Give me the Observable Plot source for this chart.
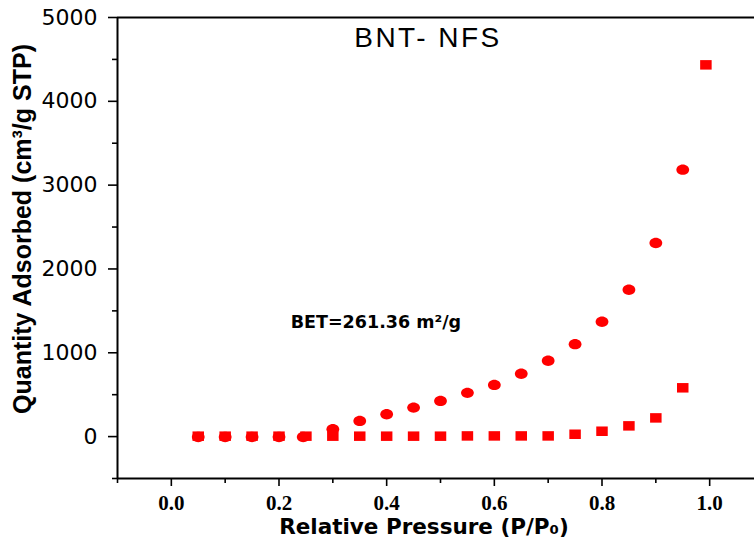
<!DOCTYPE html>
<html>
<head>
<meta charset="utf-8">
<script src="https://cdn.jsdelivr.net/npm/d3@7"></script>
<script src="https://cdn.jsdelivr.net/npm/@observablehq/plot@0.6"></script>
<style>
  html, body { margin: 0; padding: 0; background: #fff; }
  #chart svg { display: block; background: #fff; }
</style>
</head>
<body>
<div id="chart"></div>
<script>
// ---- data ----
const desPressure = [0.05, 0.10, 0.15, 0.20, 0.245, 0.30, 0.35, 0.40, 0.45, 0.50, 0.55, 0.60, 0.65, 0.70, 0.75, 0.80, 0.85, 0.90, 0.95];
const desQuantity = [-5, -5, -5, -5, -5, 88, 187, 267, 346, 426, 522, 617, 749, 904, 1103, 1370, 1752, 2309, 3185];
const adsPressure = [0.05, 0.10, 0.15, 0.20, 0.25, 0.30, 0.35, 0.40, 0.45, 0.50, 0.55, 0.60, 0.65, 0.70, 0.75, 0.80, 0.85, 0.90, 0.95, 0.993];
const adsQuantity = [5, 5, 5, 5, 5, 5, 5, 5, 5, 5, 8, 8, 8, 8, 28, 64, 128, 223, 582, 4435];

const yMajorTicks = [0, 1000, 2000, 3000, 4000, 5000];
const yMinorTicks = [-500, 500, 1500, 2500, 3500, 4500];
const xMajorTicks = [0.0, 0.2, 0.4, 0.6, 0.8, 1.0];
const xMinorTicks = [-0.1, 0.1, 0.3, 0.5, 0.7, 0.9];

const titleText = "BNT- NFS";
const betText = "BET=261.36 m²/g";
const betPosition = [0.38, 1358];
const xTitle = "Relative Pressure (P/P₀)";
const yTitle = "Quantity Adsorbed (cm³/g STP)";

// ---- tables ----
const des = desPressure.map((p, i) => ({p, q: desQuantity[i]}));
const ads = adsPressure.map((p, i) => ({p, q: adsQuantity[i]}));

// custom symbols (markers are slightly wider than tall in the reference)
const ellipseSymbol = {
  draw(ctx) {
    const rx = 6.4, ry = 5.2, k = 0.5523;
    ctx.moveTo(rx, 0);
    ctx.bezierCurveTo(rx, ry * k, rx * k, ry, 0, ry);
    ctx.bezierCurveTo(-rx * k, ry, -rx, ry * k, -rx, 0);
    ctx.bezierCurveTo(-rx, -ry * k, -rx * k, -ry, 0, -ry);
    ctx.bezierCurveTo(rx * k, -ry, rx, -ry * k, rx, 0);
    ctx.closePath();
  }
};
const rectSymbol = {
  draw(ctx) {
    const w = 5.75, h = 4.75;
    ctx.moveTo(-w, -h);
    ctx.lineTo(w, -h);
    ctx.lineTo(w, h);
    ctx.lineTo(-w, h);
    ctx.closePath();
  }
};

const RED = "#ff0000";
const sans = "'DejaVu Sans', sans-serif";

const chart = Plot.plot({
  width: 754,
  height: 545,
  marginLeft: 117,
  marginRight: 0,
  marginTop: 17,
  marginBottom: 67,
  x: {domain: [-0.1, 1.1], range: [117, 763]},
  y: {domain: [-500, 5000]},
  marks: [
    // frame lines
    Plot.ruleY([5000], {stroke: "#000", strokeWidth: 2}),
    Plot.ruleY([-500], {stroke: "#000", strokeWidth: 2}),
    Plot.ruleX([-0.1], {stroke: "#000", strokeWidth: 2}),
    // y axis
    Plot.axisY({ticks: yMajorTicks, tickSize: 9, tickPadding: 11, strokeWidth: 1.6,
      tickFormat: d => String(d), label: null,
      fontSize: 22, fontFamily: sans, fontWeight: "normal"}),
    Plot.axisY({ticks: yMinorTicks, tickSize: 5, strokeWidth: 1.6, text: null, label: null}),
    // x axis
    Plot.axisX({ticks: xMajorTicks, tickSize: 8, tickPadding: 9, strokeWidth: 1.6,
      tickFormat: d => d.toFixed(1), label: null,
      fontSize: 21, fontFamily: "'Liberation Serif', serif", fontWeight: "bold"}),
    Plot.axisX({ticks: xMinorTicks, tickSize: 5, strokeWidth: 1.6, text: null, label: null}),
    // data
    Plot.dot(ads, {x: "p", y: "q", r: 6, symbol: rectSymbol, fill: RED, stroke: null}),
    Plot.dot(des, {x: "p", y: "q", r: 6, symbol: ellipseSymbol, fill: RED, stroke: null}),
    // texts
    Plot.text([titleText], {text: d => d, frameAnchor: "top", dx: -8, dy: 21, lineAnchor: "middle",
      textAnchor: "middle",
      fontSize: 28, fontFamily: "'Liberation Sans', Arial, sans-serif", fill: "#000"}),
    Plot.text([betText], {x: () => betPosition[0], y: () => betPosition[1], text: d => d,
      lineAnchor: "middle", fontSize: 17.5, fontWeight: "bold", fontFamily: sans, fill: "#000"}),
    Plot.text([xTitle], {text: d => d, frameAnchor: "bottom", dx: -12, dy: 49, lineAnchor: "middle",
      textAnchor: "middle",
      fontSize: 21.5, fontWeight: "bold", fontFamily: sans, fill: "#000"}),
    Plot.text([yTitle], {text: d => d, frameAnchor: "left", dx: -95, dy: -19, rotate: -90,
      lineAnchor: "middle", textAnchor: "middle",
      fontSize: 25, fontWeight: "bold", fontFamily: "'Liberation Sans', Arial, sans-serif", fill: "#000"})
  ]
});
// widen the title's letter spacing, as in the reference
d3.select(chart).selectAll("text")
  .filter(function() { return this.textContent === titleText; })
  .style("letter-spacing", "2.5px");
document.getElementById("chart").appendChild(chart);
</script>
</body>
</html>
